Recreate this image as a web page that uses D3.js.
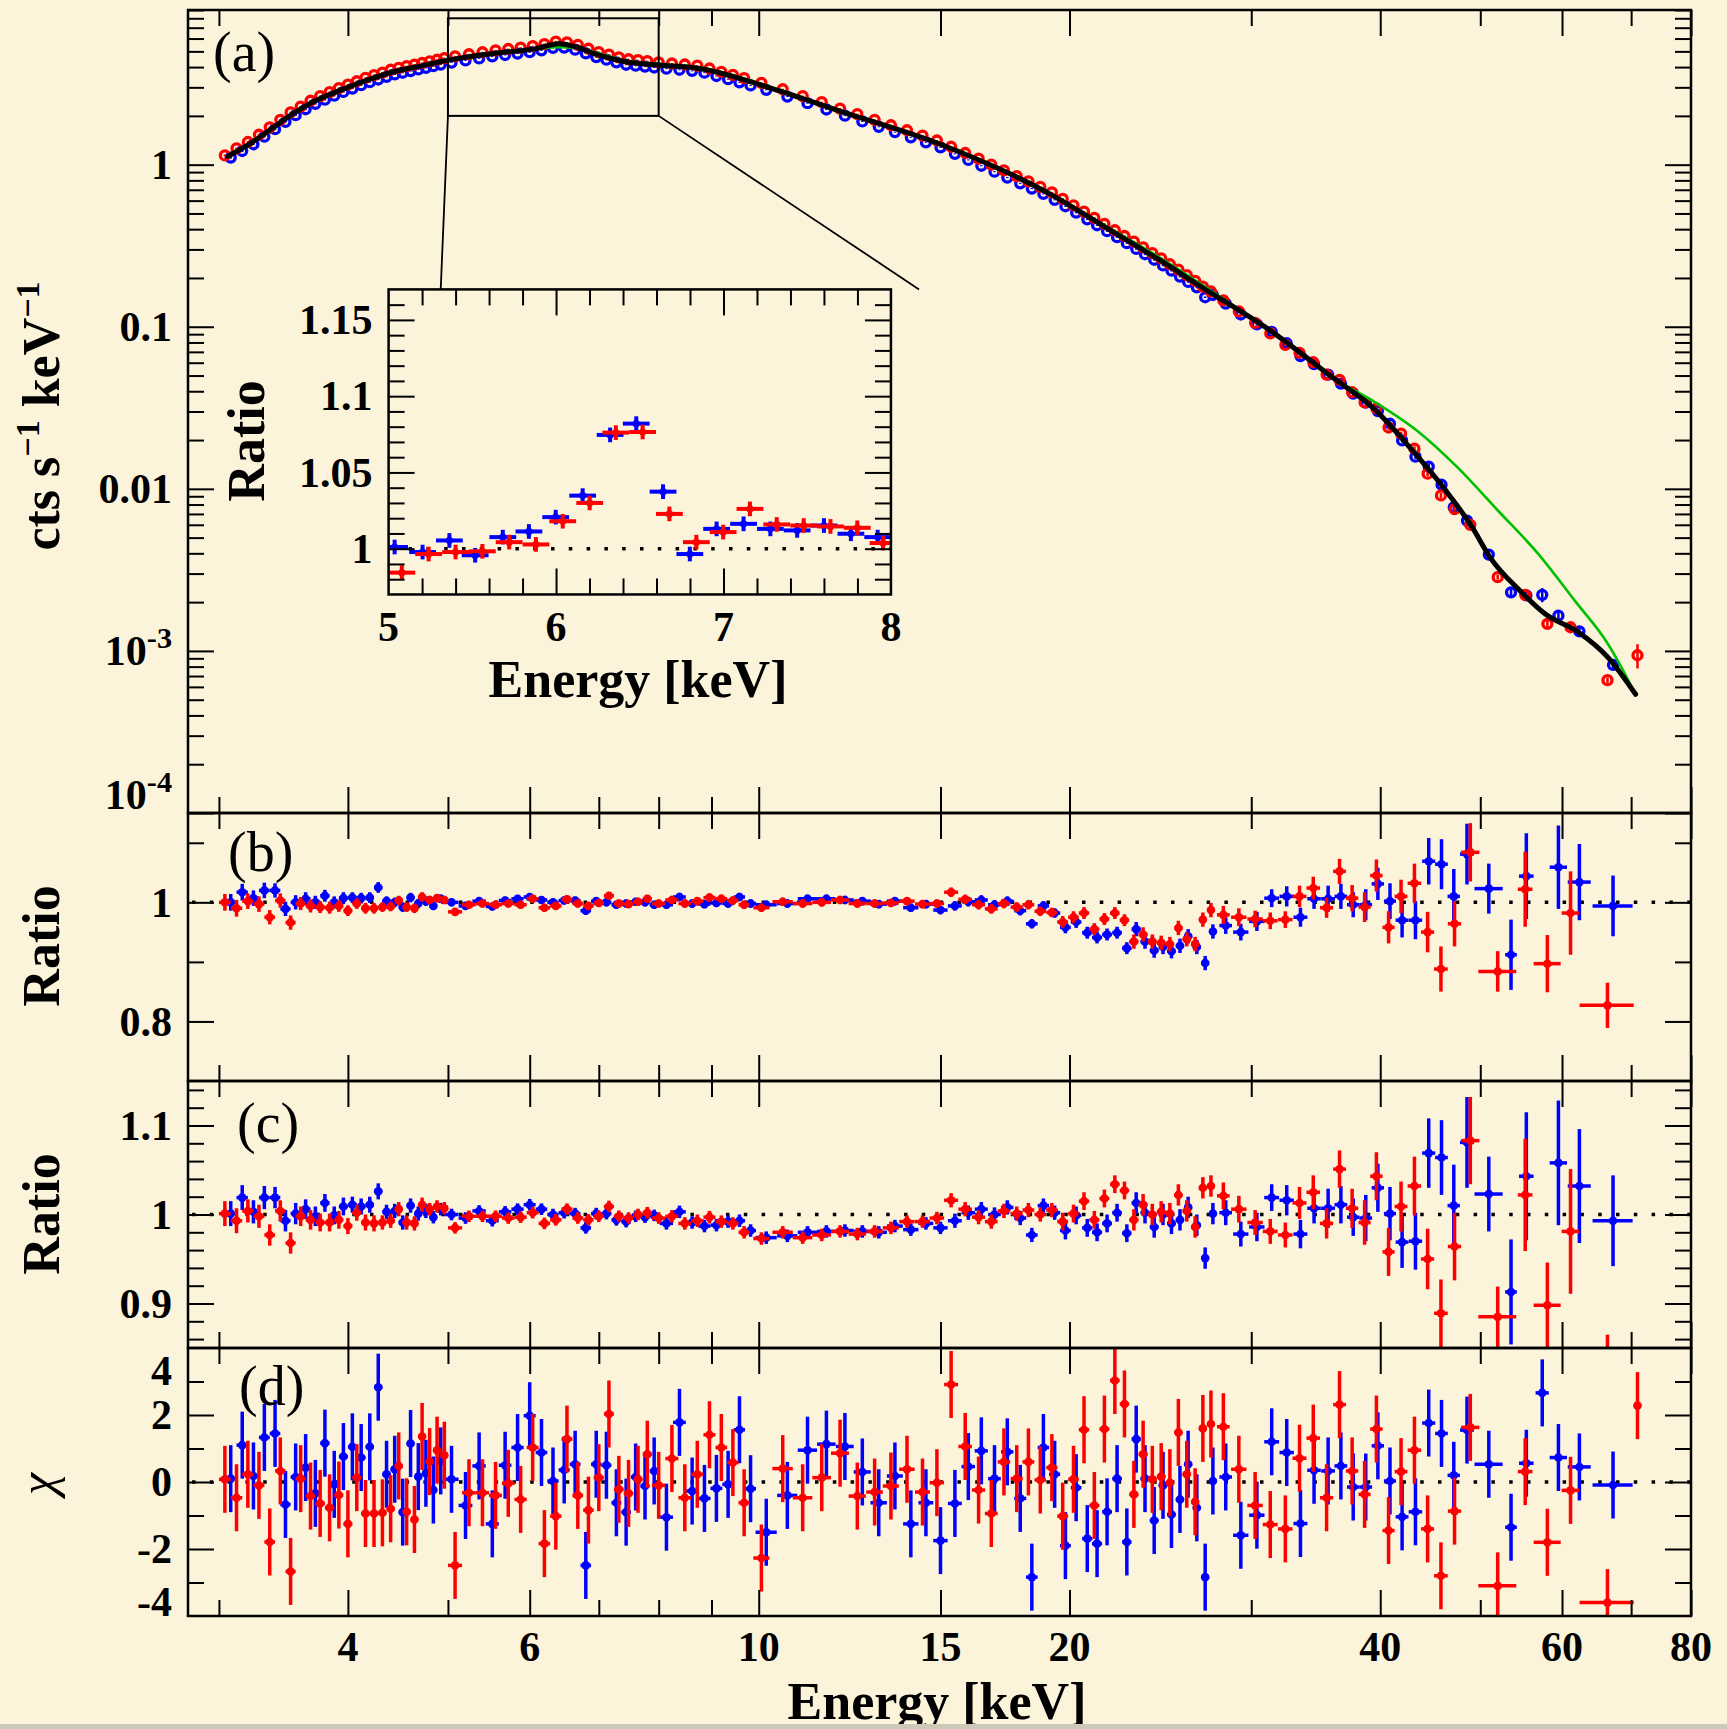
<!DOCTYPE html>
<html>
<head>
<meta charset="utf-8">
<title>Spectrum with ratios</title>
<script src="https://cdn.jsdelivr.net/npm/d3@7/dist/d3.min.js"></script>
<style>
  html, body { margin:0; padding:0; background:#fbf3da; overflow:hidden; }
  svg { display:block; }
</style>
</head>
<body>
<svg id="chart" width="1727" height="1729"></svg>
<script>
// ======================= DATA =======================
const xMajorTicks  = [4, 6, 10, 15, 20, 40, 60, 80];
const xMajorLabels = ["4", "6", "10", "15", "20", "40", "60", "80"];
const xMinorTicks  = [3, 5, 7, 8, 9, 30, 50, 70];

const aTickVals  = [1, 0.1, 0.01, 0.001, 0.0001];
const aTickText  = ["1", "0.1", "0.01", "10^-3", "10^-4"];
const bTickVals  = [1.0, 0.8];
const bTickText  = ["1", "0.8"];
const cTickVals  = [1.1, 1.0, 0.9];
const cTickText  = ["1.1", "1", "0.9"];
const dTickVals  = [4, 2, 0, -2, -4];
const dTickText  = ["4", "2", "0", "-2", "-4"];
const insXVals   = [5, 6, 7, 8];
const insXText   = ["5", "6", "7", "8"];
const insYVals   = [1.15, 1.1, 1.05, 1];
const insYText   = ["1.15", "1.1", "1.05", "1"];

// best-fit model (black) and alternative model (green), panel (a)
const modelE = [3.06,3.216,3.35,3.52,3.70,3.93,4.17,4.42,4.74,4.99,
                5.51,6.09,6.40,6.66,6.93,7.43,8.05,8.78,10.3,11.96,
                14.93,19.1,21.6,24.4,27.0,31.2,36.2,39.3,42.7,46.3,
                49.1,51.1,54.6,57.8,62.3,66.5,70.7];
const modelBlack = [1.125,1.348,1.612,2.015,2.435,2.875,3.315,3.73,4.10,4.40,
                4.84,5.20,5.58,5.32,4.84,4.31,4.10,3.91,2.95,2.15,
                1.35,0.665,0.416,0.26,0.172,0.096,0.0472,0.0319,0.0181,0.00976,
                0.0058,0.00378,0.00236,0.00169,0.0013,0.00091,0.00054];
const greenE = [3.06,3.216,3.35,3.52,3.70,3.93,4.17,4.42,4.74,4.99,
                5.51,6.09,6.40,6.66,6.93,7.43,8.05,8.78,10.3,11.96,
                14.93,19.1,21.6,24.4,27.0,31.2,36.2,39.3,43.4,47.5,
                52.0,56.9,61.7,66.5,70.7];
const modelGreen = [1.125,1.348,1.612,2.015,2.435,2.875,3.315,3.73,4.10,4.40,
                4.84,5.18,5.30,5.25,4.95,4.38,4.18,3.98,3.0,2.17,
                1.36,0.675,0.425,0.27,0.178,0.096,0.0472,0.0351,0.0229,0.0136,
                0.00735,0.00397,0.00205,0.0011,0.00054];

// ---------- FPMA (red) ----------
const redE = [3.04,3.12,3.20,3.28,3.36,3.44,3.52,3.60,3.68,3.76,
  3.84,3.92,4.00,4.08,4.16,4.24,4.32,4.40,4.48,4.56,
  4.64,4.72,4.80,4.88,4.96,5.08,5.24,5.40,5.56,5.72,
  5.88,6.04,6.20,6.36,6.52,6.68,6.84,7.00,7.16,7.32,
  7.48,7.64,7.80,8.00,8.24,8.48,8.72,8.96,9.20,9.44,
  9.68,10.06,10.55,11.03,11.51,11.99,12.46,12.95,13.43,13.92,
  14.41,14.88,15.36,15.85,16.33,16.80,17.28,17.78,18.25,18.74,
  19.23,19.70,20.18,20.66,21.14,21.62,22.13,22.61,23.09,23.57,
  24.06,24.54,25.02,25.50,25.98,26.47,26.93,27.42,28.19,29.18,
  30.26,31.30,32.37,33.41,34.45,35.49,36.53,37.57,38.63,39.66,
  40.75,41.90,43.17,44.46,45.80,47.21,48.90,51.98,55.27,58.07,
  61.15,66.4,71.0];
const redXe = [0.04,0.04,0.04,0.04,0.04,0.04,0.04,0.04,0.04,0.04,
  0.04,0.04,0.04,0.04,0.04,0.04,0.04,0.04,0.04,0.04,
  0.04,0.04,0.04,0.04,0.04,0.08,0.08,0.08,0.08,0.08,
  0.08,0.08,0.08,0.08,0.08,0.08,0.08,0.08,0.08,0.08,
  0.08,0.08,0.08,0.12,0.12,0.12,0.12,0.12,0.12,0.12,
  0.12,0.18,0.24,0.24,0.24,0.24,0.24,0.24,0.24,0.24,
  0.24,0.24,0.24,0.24,0.24,0.24,0.24,0.24,0.24,0.24,
  0.24,0.24,0.24,0.24,0.24,0.24,0.24,0.24,0.24,0.24,
  0.24,0.24,0.24,0.24,0.24,0.24,0.24,0.24,0.4,0.5,
  0.52,0.52,0.52,0.52,0.52,0.52,0.52,0.52,0.52,0.55,
  0.55,0.6,0.65,0.65,0.7,0.7,1.0,2.2,0.9,1.75,
  1.2,4.0,0.6];
const redFlux = [1.14,1.26,1.38,1.53,1.70,1.89,2.10,2.28,2.48,2.65,
  2.80,2.97,3.12,3.27,3.43,3.57,3.70,3.85,3.95,4.05,
  4.14,4.24,4.34,4.44,4.54,4.66,4.80,4.94,5.07,5.17,
  5.27,5.38,5.55,5.75,5.68,5.49,5.19,4.95,4.77,4.59,
  4.47,4.41,4.35,4.28,4.21,4.15,4.08,3.92,3.74,3.58,
  3.42,3.20,2.92,2.65,2.43,2.22,2.05,1.89,1.75,1.63,
  1.51,1.41,1.29,1.18,1.09,1.00,0.923,0.849,0.788,0.730,
  0.674,0.615,0.561,0.513,0.470,0.431,0.394,0.363,0.335,0.309,
  0.285,0.264,0.243,0.225,0.208,0.192,0.177,0.165,0.1454,0.1244,
  0.1056,0.0909,0.0772,0.0690,0.0604,0.0507,0.047,0.0395,0.0342,0.0313,
  0.0239,0.0219,0.0177,0.0124,0.0091,0.0075,0.0060,0.00285,0.00222,0.00147,
  0.0014,0.00066,0.00094];
const redRatioB = [1.000,0.990,1.002,0.997,0.975,1.003,0.966,0.998,0.994,0.992,
  0.991,0.994,0.986,0.998,0.990,0.990,0.992,0.993,1.003,0.992,
  0.990,1.009,1.004,1.007,1.004,0.984,0.996,0.998,0.996,0.998,
  0.996,1.006,0.991,0.994,1.005,0.998,0.994,0.999,1.011,0.998,
  0.997,1.001,1.006,0.998,1.004,0.998,1.002,1.008,1.006,1.003,
  0.996,0.991,1.001,0.998,1.000,1.004,0.998,0.998,0.999,1.002,
  0.997,0.998,1.017,1.005,0.996,0.989,0.998,0.992,0.996,0.985,
  0.983,0.967,0.975,0.982,0.955,0.972,0.982,0.970,0.934,0.946,
  0.934,0.932,0.930,0.957,0.938,0.930,0.971,0.987,0.979,0.975,
  0.972,0.969,0.971,1.010,1.024,0.991,1.052,1.007,0.992,1.045,
  0.958,1.010,1.032,0.950,0.888,0.964,1.084,0.884,1.022,0.897,
  0.982,0.827,1.75];
const redRatioC = [1.001,0.993,1.004,0.998,0.977,1.004,0.968,0.998,0.994,0.991,
  0.991,0.994,0.987,1.002,0.991,0.990,0.991,0.993,1.006,0.991,
  0.990,1.011,1.006,1.009,1.007,0.985,0.998,0.998,0.998,0.996,
  0.997,1.002,0.990,0.994,1.006,0.996,0.994,0.998,1.009,0.998,
  0.996,1.000,1.002,0.996,0.998,0.990,0.993,0.997,0.992,0.990,
  0.980,0.973,0.980,0.974,0.977,0.981,0.978,0.981,0.985,0.992,
  0.992,0.996,1.016,1.006,0.997,0.992,1.004,1.001,1.005,1.000,
  1.005,0.992,1.001,1.015,0.994,1.018,1.034,1.027,0.994,1.011,
  1.000,1.003,1.001,1.022,1.004,0.986,1.030,1.032,1.021,1.006,
  0.991,0.981,0.977,1.013,1.025,0.990,1.051,1.007,0.991,1.043,
  0.958,1.009,1.032,0.950,0.889,0.964,1.083,0.885,1.022,0.898,
  0.981,0.827,1.75];
const redChi = [0.08,-0.47,0.23,-0.10,-1.79,0.33,-2.67,0.10,-0.42,-0.64,
  -0.77,-0.39,-1.25,0.13,-0.94,-0.94,-0.92,-0.80,0.48,-0.89,
  -1.12,1.36,0.61,0.95,0.80,-2.49,-0.32,-0.32,-0.40,-0.04,
  -0.52,1.03,-1.84,-1.02,1.28,-0.40,-0.84,0.13,2.03,-0.22,
  -0.34,0.08,0.83,-0.10,0.70,-0.47,0.23,1.41,1.03,0.58,
  -0.62,-2.27,0.40,-0.47,0.13,0.86,-0.42,-0.30,-0.12,0.38,
  -0.30,-0.02,2.91,1.06,-0.24,-0.94,0.60,0.10,0.60,0.06,
  0.43,-1.02,0.08,1.56,-0.70,1.58,3.03,2.33,-0.37,0.83,
  0.08,0.16,-0.02,1.48,0.23,-0.59,1.60,1.73,1.65,0.38,
  -0.70,-1.27,-1.40,0.71,1.31,-0.47,2.31,0.33,-0.37,1.58,
  -1.45,0.31,0.95,-1.40,-2.80,-0.87,1.63,-3.10,0.31,-1.80,
  -0.25,-3.60,2.28];
const redSig = [0.014,0.014,0.013,0.013,0.012,0.012,0.012,0.011,0.011,0.010,
  0.010,0.010,0.009,0.009,0.009,0.009,0.008,0.008,0.008,0.008,
  0.008,0.008,0.007,0.007,0.007,0.0065,0.0065,0.0065,0.0065,0.0065,
  0.0065,0.0065,0.0065,0.0065,0.0065,0.0065,0.0065,0.0065,0.0065,0.0065,
  0.0065,0.0065,0.0065,0.0065,0.007,0.007,0.007,0.007,0.007,0.007,
  0.007,0.007,0.007,0.007,0.007,0.007,0.007,0.007,0.007,0.007,
  0.007,0.007,0.008,0.008,0.008,0.008,0.008,0.008,0.008,0.008,
  0.008,0.010,0.010,0.010,0.010,0.010,0.010,0.010,0.012,0.012,
  0.012,0.012,0.012,0.012,0.012,0.012,0.012,0.012,0.015,0.015,
  0.014,0.014,0.014,0.018,0.019,0.017,0.021,0.022,0.025,0.027,
  0.027,0.028,0.033,0.034,0.038,0.038,0.049,0.034,0.063,0.048,
  0.07,0.038,0.17];

// ---------- FPMB (blue) ----------
const blueE = [3.08,3.16,3.24,3.32,3.40,3.48,3.56,3.64,3.72,3.80,
  3.88,3.96,4.04,4.12,4.20,4.28,4.36,4.44,4.52,4.60,
  4.68,4.76,4.84,4.92,5.04,5.20,5.36,5.52,5.68,5.84,
  6.00,6.16,6.32,6.48,6.64,6.80,6.96,7.12,7.28,7.44,
  7.60,7.76,7.92,8.14,8.38,8.62,8.86,9.10,9.34,9.58,
  9.82,10.17,10.66,11.15,11.63,12.12,12.60,13.07,13.55,14.04,
  14.52,15.00,15.49,15.96,16.43,16.92,17.41,17.92,18.39,18.87,
  19.35,19.82,20.30,20.81,21.27,21.75,22.24,22.73,23.21,23.67,
  24.16,24.64,25.11,25.59,26.06,26.57,27.07,27.54,28.34,29.31,
  30.38,31.40,32.47,33.48,34.51,35.61,36.64,37.66,38.73,39.79,
  40.88,42.0,43.27,44.57,45.86,47.13,48.54,50.96,53.55,55.41,
  57.41,59.52,62.37,67.23];
const blueXe = [0.04,0.04,0.04,0.04,0.04,0.04,0.04,0.04,0.04,0.04,
  0.04,0.04,0.04,0.04,0.04,0.04,0.04,0.04,0.04,0.04,
  0.04,0.04,0.04,0.04,0.08,0.08,0.08,0.08,0.08,0.08,
  0.08,0.08,0.08,0.08,0.08,0.08,0.08,0.08,0.08,0.08,
  0.08,0.08,0.08,0.12,0.12,0.12,0.12,0.12,0.12,0.12,
  0.12,0.24,0.24,0.24,0.24,0.24,0.24,0.24,0.24,0.24,
  0.24,0.24,0.24,0.24,0.24,0.24,0.24,0.24,0.24,0.24,
  0.24,0.24,0.24,0.24,0.24,0.24,0.24,0.24,0.24,0.24,
  0.24,0.24,0.24,0.24,0.24,0.24,0.24,0.24,0.4,0.5,
  0.52,0.52,0.52,0.52,0.52,0.55,0.52,0.52,0.55,0.55,
  0.55,0.6,0.65,0.65,0.65,0.65,0.75,1.6,0.7,0.9,
  0.85,1.15,1.6,3.0];
const blueFlux = [1.106,1.214,1.336,1.488,1.655,1.839,2.019,2.197,2.372,2.516,
  2.664,2.811,2.949,3.092,3.229,3.354,3.483,3.603,3.690,3.780,
  3.868,3.959,4.050,4.144,4.265,4.395,4.525,4.652,4.749,4.845,
  4.941,5.074,5.261,5.276,5.124,4.861,4.612,4.442,4.282,4.134,
  4.080,4.027,3.976,3.913,3.852,3.792,3.694,3.524,3.367,3.219,
  3.081,2.896,2.632,2.394,2.189,2.006,1.849,1.713,1.588,1.475,
  1.374,1.279,1.166,1.070,0.985,0.905,0.833,0.767,0.712,0.661,
  0.607,0.554,0.506,0.460,0.423,0.389,0.357,0.328,0.302,0.280,
  0.259,0.239,0.222,0.204,0.189,0.175,0.152,0.157,0.139,0.119,
  0.1034,0.0930,0.0791,0.0659,0.0588,0.0507,0.0446,0.0387,0.0340,0.0302,
  0.0252,0.0199,0.0158,0.0137,0.0106,0.0077,0.00637,0.00393,0.0023,0.0022,
  0.00222,0.00165,0.00132,0.00082];
const blueRatioB = [1.000,1.017,1.007,1.020,1.020,0.989,1.000,1.006,1.000,1.011,
  1.000,1.007,1.008,1.007,1.008,1.025,1.002,1.000,0.992,1.008,
  0.998,1.002,0.994,1.006,1.000,0.994,1.002,0.993,1.003,1.006,
  1.009,1.004,1.000,1.003,1.003,0.986,1.002,1.000,0.996,0.998,
  1.001,1.000,0.996,0.996,1.009,0.998,0.997,0.999,0.998,1.009,
  0.998,0.996,0.998,1.006,1.006,1.004,1.002,0.997,1.002,0.991,
  0.997,0.987,0.994,1.001,1.004,0.996,1.002,0.986,0.964,0.994,
  0.982,0.958,0.967,0.949,0.941,0.946,0.949,0.923,0.955,0.934,
  0.919,0.925,0.918,0.927,0.943,0.925,0.898,0.951,0.961,0.950,
  0.968,1.007,1.010,0.975,1.006,1.006,1.010,0.996,0.996,1.031,
  1.002,0.970,0.970,1.069,1.064,1.010,1.081,1.023,0.912,1.044,
  1.27,1.059,1.034,0.994];
const blueRatioC = [1.001,1.019,1.003,1.019,1.019,0.993,1.001,1.006,0.998,1.013,
  0.999,1.009,1.011,1.009,1.011,1.026,1.003,1.004,0.991,1.010,
  1.001,1.004,0.997,1.006,1.000,0.996,1.004,0.993,1.003,1.006,
  1.011,1.006,1.000,1.002,1.001,0.985,1.001,1.001,0.994,0.992,
  0.998,0.997,0.999,0.990,1.003,0.991,0.987,0.988,0.992,0.993,
  0.982,0.974,0.976,0.980,0.981,0.982,0.981,0.980,0.987,0.983,
  0.990,0.985,0.993,1.002,1.006,1.000,1.008,0.996,0.977,1.010,
  1.002,0.982,0.999,0.985,0.980,0.990,1.002,0.979,1.013,1.002,
  0.986,1.000,0.990,0.994,1.008,0.988,0.951,1.001,1.002,0.978,
  0.986,1.019,1.016,0.978,1.007,1.007,1.011,0.997,0.996,1.030,
  1.001,0.969,0.970,1.069,1.064,1.010,1.081,1.023,0.913,1.043,
  1.27,1.058,1.032,0.993];
const blueChi = [0.10,1.10,0.18,1.33,1.45,-0.67,0.15,0.43,-0.34,1.16,
  -0.07,0.76,1.05,0.73,1.05,2.83,0.23,0.38,-0.90,1.15,
  0.16,0.26,-0.24,0.63,0.08,-0.70,0.48,-1.25,0.50,1.03,
  1.98,0.88,0.03,0.36,0.53,-2.49,0.53,0.50,-0.62,-0.90,
  0.15,-0.12,0.33,-1.05,1.78,-0.27,-0.49,-0.19,-0.07,1.56,
  -0.20,-1.50,-0.40,0.95,1.13,1.06,0.30,-0.62,0.18,-1.25,
  -0.62,-1.75,-0.64,0.46,0.93,0.10,0.90,-0.49,-2.84,1.03,
  0.23,-1.90,-0.17,-1.69,-1.84,-0.89,0.10,-1.79,1.28,0.10,
  -1.15,-0.10,-0.97,-0.52,0.53,-0.77,-2.84,0.03,0.15,-1.59,
  -0.99,1.20,0.88,-1.24,0.35,0.33,0.48,-0.15,-0.15,1.08,
  0.03,-1.04,-0.89,1.76,1.45,0.20,1.55,0.53,-1.35,0.56,
  2.66,0.73,0.45,-0.09];
const blueSig = [0.014,0.014,0.013,0.013,0.012,0.012,0.012,0.011,0.011,0.010,
  0.010,0.010,0.009,0.009,0.009,0.009,0.008,0.008,0.008,0.008,
  0.008,0.008,0.007,0.007,0.0065,0.0065,0.0065,0.0065,0.0065,0.0065,
  0.0065,0.0065,0.0065,0.0065,0.0065,0.0065,0.0065,0.0065,0.0065,0.0065,
  0.0065,0.0065,0.0065,0.007,0.007,0.007,0.007,0.007,0.007,0.007,
  0.007,0.007,0.007,0.007,0.007,0.007,0.007,0.007,0.007,0.007,
  0.007,0.007,0.008,0.008,0.008,0.008,0.008,0.008,0.008,0.008,
  0.008,0.010,0.010,0.010,0.010,0.010,0.010,0.010,0.012,0.012,
  0.012,0.012,0.012,0.012,0.012,0.012,0.012,0.012,0.014,0.014,
  0.016,0.015,0.017,0.016,0.017,0.022,0.021,0.021,0.026,0.027,
  0.030,0.029,0.032,0.039,0.042,0.046,0.051,0.042,0.059,0.072,
  0.10,0.070,0.064,0.051];

// ---------- inset: ratio around the Fe line ----------
const insetBlueE = [5.036,5.203,5.363,5.517,5.682,5.838,5.998,6.159,6.323,6.479,
  6.639,6.799,6.959,7.120,7.280,7.440,7.600,7.761,7.921];
const insetBlueR = [1.0011,0.9978,1.0054,0.9957,1.0076,1.0113,1.0207,1.0348,1.0746,1.0820,
  1.0374,0.9965,1.0130,1.0163,1.0130,1.0120,1.0152,1.0098,1.0076];
const insetRedE = [5.079,5.239,5.400,5.560,5.720,5.880,6.040,6.201,6.357,6.517,
  6.677,6.838,6.998,7.158,7.318,7.479,7.639,7.799,7.953];
const insetRedR = [0.9843,0.9965,0.9978,0.9983,1.0043,1.0028,1.0180,1.0300,1.0761,1.0765,
  1.0228,1.0043,1.0109,1.0261,1.0159,1.0152,1.0146,1.0137,1.0037];
const insetSig = 0.0048, insetHalfBin = 0.08;

// zoom box (keV x counts) and where the inset sits, in panel (a) data units
const zoomBox  = { e0: 5, e1: 8, f0: 2, f1: 8 };
const insetBox = { e0: 4.38, e1: 13.43, f0: 0.00223, f1: 0.17 };
const zoomLinkEnds = [[4.92, 0.17], [14.3, 0.17]];

// ======================= DRAWING =======================
const W = 1727, H = 1729, BG = "#fbf3da";
const FONT = "'Liberation Serif','Times New Roman',serif";
const RED = "#ff0000", BLUE = "#0000ff", GREEN = "#00c000";
const svg = d3.select("#chart");
svg.append("rect").attr("width", W).attr("height", H).attr("fill", BG);

const X0 = 188, X1 = 1691;
const P = { a: [10, 813], b: [813, 1081], c: [1081, 1348], d: [1348, 1616] };
const x  = d3.scaleLog().domain([2.8, 80]).range([X0, X1]);
const yA = d3.scaleLog().domain([1e-4, 9]).range([P.a[1], P.a[0]]);
const yB = d3.scaleLinear().domain([0.7, 1.15]).range([P.b[1], P.b[0]]);
const yC = d3.scaleLinear().domain([0.85, 1.15]).range([P.c[1], P.c[0]]);
const yD = d3.scaleLinear().domain([-4, 4]).range([P.d[1], P.d[0]]);

const defs = svg.append("defs");
function clipRect(id, x0, y0, x1, y1) {
  defs.append("clipPath").attr("id", id).append("rect")
    .attr("x", x0).attr("y", y0).attr("width", x1 - x0).attr("height", y1 - y0);
  return `url(#${id})`;
}
const clipA = clipRect("cA", X0, P.a[0], X1, P.a[1]);
const clipB = clipRect("cB", X0, P.b[0], X1, P.b[1]);
const clipC = clipRect("cC", X0, P.c[0], X1, P.c[1]);
const clipD = clipRect("cD", X0, P.d[0], X1, P.d[1]);

const TM = 26, Tm = 16;
function tickGroup(axis, tx, ty) {
  const g = svg.append("g").attr("transform", `translate(${tx},${ty})`)
    .attr("color", "#000").call(axis);
  g.select(".domain").remove();
  g.selectAll("text").remove();
  g.selectAll("line").attr("stroke-width", 2);
  return g;
}
function panelTicks(top, bottom, ys, yMaj, yMin, xs, xl, xr, xMaj, xMin) {
  xs = xs || x; xl = xl === undefined ? X0 : xl; xr = xr === undefined ? X1 : xr;
  xMaj = xMaj || xMajorTicks; xMin = xMin || xMinorTicks;
  tickGroup(d3.axisTop(xs).tickValues(xMaj).tickSize(-TM), 0, top);
  tickGroup(d3.axisTop(xs).tickValues(xMin).tickSize(-Tm), 0, top);
  tickGroup(d3.axisBottom(xs).tickValues(xMaj).tickSize(-TM), 0, bottom);
  tickGroup(d3.axisBottom(xs).tickValues(xMin).tickSize(-Tm), 0, bottom);
  tickGroup(d3.axisLeft(ys).tickValues(yMaj).tickSize(-TM), xl, 0);
  tickGroup(d3.axisLeft(ys).tickValues(yMin).tickSize(-Tm), xl, 0);
  tickGroup(d3.axisRight(ys).tickValues(yMaj).tickSize(-TM), xr, 0);
  tickGroup(d3.axisRight(ys).tickValues(yMin).tickSize(-Tm), xr, 0);
}

// ---- reference lines (dotted) ----
function dotted(y, x0, x1) {
  svg.append("line").attr("x1", x0).attr("x2", x1).attr("y1", y).attr("y2", y)
    .attr("stroke", "#000").attr("stroke-width", 3.5).attr("stroke-dasharray", "3.5 14.3");
}
dotted(yB(1), X0 + 4, X1);
dotted(yC(1), X0 + 4, X1);
dotted(yD(0), X0 + 4, X1);

// ---- ratio / chi panels ----
function drawResid(ys, clip, E, V, S, XE, color, lw, r) {
  const g = svg.append("g").attr("clip-path", clip);
  const idx = d3.range(E.length);
  g.selectAll("line.h").data(idx).join("line").attr("class", "h")
    .attr("x1", i => x(E[i] - XE[i])).attr("x2", i => x(E[i] + XE[i]))
    .attr("y1", i => ys(V[i])).attr("y2", i => ys(V[i]))
    .attr("stroke", color).attr("stroke-width", lw);
  g.selectAll("line.v").data(idx).join("line").attr("class", "v")
    .attr("x1", i => x(E[i])).attr("x2", i => x(E[i]))
    .attr("y1", i => ys(V[i] - S[i])).attr("y2", i => ys(V[i] + S[i]))
    .attr("stroke", color).attr("stroke-width", lw);
  g.selectAll("circle").data(idx).join("circle")
    .attr("cx", i => x(E[i])).attr("cy", i => ys(V[i])).attr("r", r).attr("fill", color);
}
const ones = n => d3.range(n).map(() => 1);
drawResid(yB, clipB, blueE, blueRatioB, blueSig, blueXe, BLUE, 3.5, 4.3);
drawResid(yB, clipB, redE,  redRatioB,  redSig,  redXe,  RED,  3.5, 4.3);
drawResid(yC, clipC, blueE, blueRatioC, blueSig, blueXe, BLUE, 3.5, 4.3);
drawResid(yC, clipC, redE,  redRatioC,  redSig,  redXe,  RED,  3.5, 4.3);
drawResid(yD, clipD, blueE, blueChi, ones(blueE.length), blueXe, BLUE, 3.5, 4.3);
drawResid(yD, clipD, redE,  redChi,  ones(redE.length),  redXe,  RED,  3.5, 4.3);

// ---- spectrum panel (a) ----
function drawSpec(E, Fv, S, color) {
  const g = svg.append("g").attr("clip-path", clipA);
  const idx = d3.range(E.length);
  g.selectAll("line").data(idx).join("line")
    .attr("x1", i => x(E[i])).attr("x2", i => x(E[i]))
    .attr("y1", i => yA(Fv[i] * (1 - S[i]))).attr("y2", i => yA(Fv[i] * (1 + S[i])))
    .attr("stroke", color).attr("stroke-width", 2.5);
  g.selectAll("circle").data(idx).join("circle")
    .attr("cx", i => x(E[i])).attr("cy", i => yA(Fv[i])).attr("r", 4.5)
    .attr("fill", "none").attr("stroke", color).attr("stroke-width", 3.3);
}
drawSpec(blueE, blueFlux, blueSig, BLUE);
drawSpec(redE, redFlux, redSig, RED);

const lineGen = d3.line().x(d => x(d[0])).y(d => yA(d[1])).curve(d3.curveMonotoneX);
svg.append("path").attr("clip-path", clipA)
  .attr("d", lineGen(greenE.map((e, i) => [e, modelGreen[i]])))
  .attr("fill", "none").attr("stroke", GREEN).attr("stroke-width", 2.6);
svg.append("path").attr("clip-path", clipA)
  .attr("d", lineGen(modelE.map((e, i) => [e, modelBlack[i]])))
  .attr("fill", "none").attr("stroke", "#000").attr("stroke-width", 5)
  .attr("stroke-linejoin", "round").attr("stroke-linecap", "round");

// ---- ticks and frames ----
const aMinor = [];
[-4, -3, -2, -1, 0].forEach(e => d3.range(2, 10).forEach(m => aMinor.push(m * Math.pow(10, e))));
panelTicks(P.a[0], P.a[1], yA, aTickVals, aMinor);
panelTicks(P.b[0], P.b[1], yB, [0.8, 1.0], [0.9, 1.1]);
panelTicks(P.c[0], P.c[1], yC, [0.9, 1.0, 1.1],
  [0.86, 0.88, 0.92, 0.94, 0.96, 0.98, 1.02, 1.04, 1.06, 1.08, 1.12, 1.14]);
panelTicks(P.d[0], P.d[1], yD, [-2, 0, 2], [-3, -1, 1, 3]);
Object.values(P).forEach(p => {
  svg.append("rect").attr("x", X0).attr("y", p[0]).attr("width", X1 - X0).attr("height", p[1] - p[0])
    .attr("fill", "none").attr("stroke", "#000").attr("stroke-width", 2.5);
});

// ---- zoom box and connecting lines ----
svg.append("rect").attr("x", x(zoomBox.e0)).attr("y", yA(zoomBox.f1))
  .attr("width", x(zoomBox.e1) - x(zoomBox.e0)).attr("height", yA(zoomBox.f0) - yA(zoomBox.f1))
  .attr("fill", "none").attr("stroke", "#000").attr("stroke-width", 2);
[[zoomBox.e0, zoomLinkEnds[0]], [zoomBox.e1, zoomLinkEnds[1]]].forEach(([e, end]) => {
  svg.append("line").attr("x1", x(e)).attr("y1", yA(zoomBox.f0))
    .attr("x2", x(end[0])).attr("y2", yA(end[1])).attr("stroke", "#000").attr("stroke-width", 1.8);
});

// ---- inset ----
const iL = x(insetBox.e0), iR = x(insetBox.e1), iT = yA(insetBox.f1), iB = yA(insetBox.f0);
const xi = d3.scaleLinear().domain([5, 8]).range([iL, iR]);
const yi = d3.scaleLinear().domain([0.97, 1.17]).range([iB, iT]);
svg.append("rect").attr("x", iL).attr("y", iT).attr("width", iR - iL).attr("height", iB - iT)
  .attr("fill", BG);
svg.append("line").attr("x1", iL + 20).attr("x2", iR).attr("y1", yi(1)).attr("y2", yi(1))
  .attr("stroke", "#000").attr("stroke-width", 3.5).attr("stroke-dasharray", "3.5 14.3");
function drawInset(E, R, color) {
  const g = svg.append("g");
  E.forEach((e, i) => {
    g.append("line").attr("x1", xi(Math.max(5, e - insetHalfBin))).attr("x2", xi(Math.min(8, e + insetHalfBin)))
      .attr("y1", yi(R[i])).attr("y2", yi(R[i])).attr("stroke", color).attr("stroke-width", 4);
    g.append("line").attr("x1", xi(e)).attr("x2", xi(e))
      .attr("y1", yi(R[i] - insetSig)).attr("y2", yi(R[i] + insetSig)).attr("stroke", color).attr("stroke-width", 4);
    g.append("circle").attr("cx", xi(e)).attr("cy", yi(R[i])).attr("r", 3.6).attr("fill", color);
  });
}
drawInset(insetBlueE, insetBlueR, BLUE);
drawInset(insetRedE, insetRedR, RED);
const insXMinor = [5.2,5.4,5.6,5.8,6.2,6.4,6.6,6.8,7.2,7.4,7.6,7.8];
const insYMinor = [0.98,0.99,1.01,1.02,1.03,1.04,1.06,1.07,1.08,1.09,1.11,1.12,1.13,1.14,1.16];
panelTicks(iT, iB, yi, insYVals, insYMinor, xi, iL, iR, [6, 7], insXMinor);
svg.append("rect").attr("x", iL).attr("y", iT).attr("width", iR - iL).attr("height", iB - iT)
  .attr("fill", "none").attr("stroke", "#000").attr("stroke-width", 2.5);

// ======================= TEXT =======================
const TS = 42;
function label(xp, yc, s, anchor, size, opts) {
  opts = opts || {};
  const t = svg.append("text").attr("x", xp).attr("y", yc + 0.34 * size)
    .attr("text-anchor", anchor).attr("font-family", FONT).attr("font-size", size)
    .attr("font-weight", opts.weight || "bold").attr("fill", "#000");
  const parts = s.split("^");
  t.append("tspan").text(parts[0]);
  if (parts[1]) t.append("tspan").attr("dy", -0.42 * size).attr("font-size", size * 0.72).text(parts[1]);
  return t;
}
const YLX = 172;
// panel (a) labels; extremes nudged inside as in the original
aTickVals.forEach((v, i) => label(YLX, yA(v) - (v === 1e-4 ? 18 : 0), aTickText[i], "end", TS));
bTickVals.forEach((v, i) => label(YLX, yB(v), bTickText[i], "end", TS));
cTickVals.forEach((v, i) => label(YLX, yC(v), cTickText[i], "end", TS));
dTickVals.forEach((v, i) => label(YLX, yD(v) + (v === 4 ? 23 : v === -4 ? -14 : 0), dTickText[i], "end", TS));
xMajorTicks.forEach((v, i) => label(x(v), 1647, xMajorLabels[i], "middle", TS));
insYVals.forEach((v, i) => label(iL - 16, yi(v), insYText[i], "end", TS));
insXVals.forEach((v, i) => label(xi(v), 627, insXText[i], "middle", TS));

// axis titles
function title(xp, yp, rot, build, size, italic) {
  const t = svg.append("text").attr("transform", `translate(${xp},${yp})` + (rot ? " rotate(-90)" : ""))
    .attr("text-anchor", "middle").attr("font-family", FONT).attr("font-size", size || 52)
    .attr("font-weight", italic ? "normal" : "bold").attr("font-style", italic ? "italic" : "normal")
    .attr("fill", "#000");
  build(t);
  return t;
}
title(937, 1719, false, t => t.text("Energy [keV]"));
title(638, 697, false, t => t.text("Energy [keV]"));
title(59, 416, true, t => {
  t.append("tspan").text("cts s");
  t.append("tspan").attr("dy", -20).attr("font-size", 34).text("\u22121");
  t.append("tspan").attr("dy", 20).text(" keV");
  t.append("tspan").attr("dy", -20).attr("font-size", 34).text("\u22121");
});
title(59, 946, true, t => t.text("Ratio"));
title(59, 1214, true, t => t.text("Ratio"));
title(264, 441, true, t => t.text("Ratio"));
title(54, 1484, true, t => t.text("\u03c7"), 50, true);

// panel letters
[["(a)", 213, 71], ["(b)", 228, 871], ["(c)", 237, 1142], ["(d)", 239, 1405]].forEach(([s, xp, yp]) => {
  svg.append("text").attr("x", xp).attr("y", yp).attr("font-family", FONT)
    .attr("font-size", 56).attr("fill", "#000").text(s);
});

// page edge strip at the bottom
svg.append("rect").attr("x", 0).attr("y", 1724).attr("width", W).attr("height", 5).attr("fill", "#cdc9b9");
</script>
</body>
</html>
